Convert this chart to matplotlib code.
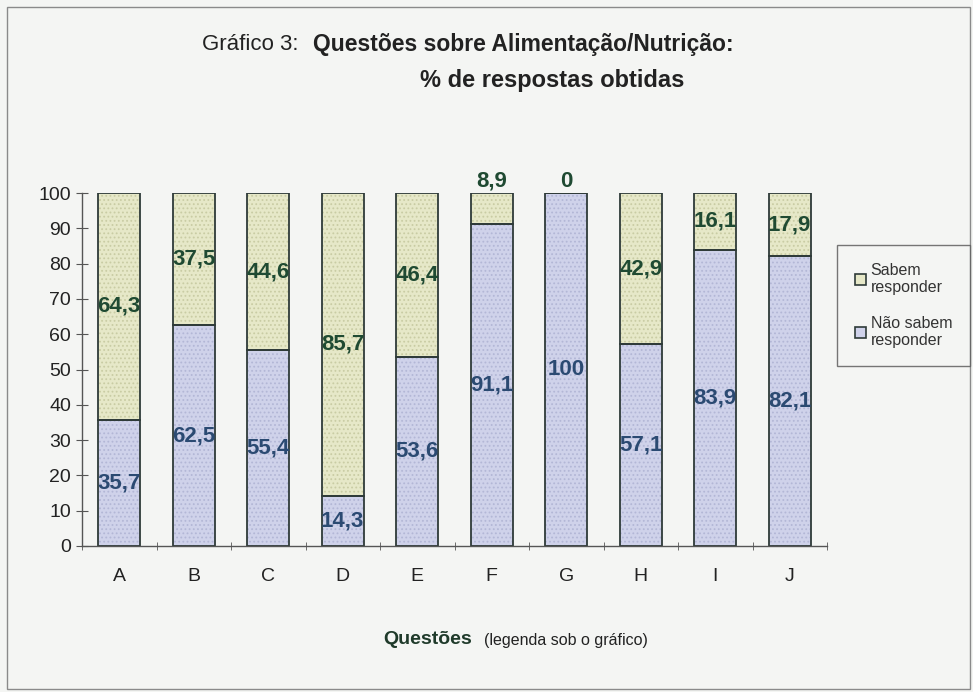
import matplotlib
matplotlib.use("Agg")
import matplotlib.pyplot as plt
import numpy as np
from matplotlib.patches import Patch

plt.rcParams['font.family'] = ['Liberation Sans', 'DejaVu Sans']
plt.rcParams['hatch.linewidth'] = 0.8

categories = ["A", "B", "C", "D", "E", "F", "G", "H", "I", "J"]
nao_sabem = [35.7, 62.5, 55.4, 14.3, 53.6, 91.1, 100, 57.1, 83.9, 82.1]
sabem = [64.3, 37.5, 44.6, 85.7, 46.4, 8.9, 0, 42.9, 16.1, 17.9]
yticks = list(range(0, 101, 10))

BG = '#f4f5f3'
fig = plt.figure(figsize=(9.73, 6.92), dpi=100, facecolor=BG)
W, H = 973, 692
ax = fig.add_axes([82 / W, 1 - 546 / H, (827 - 82) / W, (546 - 193) / H])
ax.set_facecolor('none')

x = np.arange(len(categories))
bw = 0.56
col_low = '#cfd2ea'
col_top = '#e6e8c8'
hatch_low = '#b3b7d6'
hatch_top = '#c9cca4'
ax.bar(x, nao_sabem, bw, color=col_low, edgecolor=hatch_low, linewidth=0,
       hatch='....')
ax.bar(x, sabem, bw, bottom=nao_sabem, color=col_top, edgecolor=hatch_top,
       linewidth=0, hatch='....')
ax.bar(x, nao_sabem, bw, fill=False, edgecolor='#2e3a38', linewidth=1.3)
ax.bar(x, sabem, bw, bottom=nao_sabem, fill=False, edgecolor='#2e3a38', linewidth=1.3)

h_top = Patch(facecolor=col_top, edgecolor='#2e3a38', linewidth=1.2)
h_low = Patch(facecolor=col_low, edgecolor='#2e3a38', linewidth=1.2)

def fmt(v):
    return ('%g' % v).replace('.', ',')

for i in range(len(categories)):
    lo, hi = nao_sabem[i], sabem[i]
    if lo > 0:
        ax.text(x[i], lo / 2, fmt(lo), ha='center', va='center', fontsize=16,
                fontweight='bold', color='#2b4a72')
    if hi >= 15:
        ax.text(x[i], lo + hi / 2, fmt(hi), ha='center', va='center', fontsize=16,
                fontweight='bold', color='#1f4a32')
    else:
        ax.text(x[i], 100.3, fmt(hi), ha='center', va='bottom', fontsize=16,
                fontweight='bold', color='#1f4a32')

ax.set_xlim(-0.5, len(categories) - 0.5)
ax.set_ylim(0, 100)
ax.set_yticks(yticks)
ax.set_yticklabels([str(t) for t in yticks], fontsize=14, color='#222222')
ax.set_xticks(x)
ax.set_xticklabels(categories, fontsize=14, color='#222222')
ax.tick_params(axis='x', which='major', length=0, pad=16)
ax.set_xticks(np.arange(-0.5, len(categories), 1), minor=True)
ax.tick_params(axis='x', which='minor', length=6, direction='inout', color='#555555')
ax.tick_params(axis='y', length=8, direction='inout', color='#555555', pad=4)
for s in ['top', 'right']:
    ax.spines[s].set_visible(False)
for s in ['left', 'bottom']:
    ax.spines[s].set_color('#555555')
    ax.spines[s].set_linewidth(1.0)

# Title
fig.text(202 / W, 1 - 45 / H, 'Gráfico 3: ', fontsize=16, va='center', ha='left', color='#222222')
fig.text(313 / W, 1 - 45 / H, 'Questões sobre Alimentação/Nutrição:', fontsize=16.5,
         fontweight='bold', va='center', ha='left', color='#222222')
fig.text(552 / W, 1 - 80 / H, '% de respostas obtidas', fontsize=17,
         fontweight='bold', va='center', ha='center', color='#222222')

# x label
fig.text(428 / W, 1 - 640 / H, 'Questões', fontsize=14, fontweight='bold',
         va='center', ha='center', color='#1f3a2a')
fig.text(484 / W, 1 - 641 / H, '(legenda sob o gráfico)', fontsize=11.5,
         va='center', ha='left', color='#222222')

# legend
leg = fig.legend([h_top, h_low], ['Sabem\nresponder', 'Não sabem\nresponder'],
                 loc='upper left', bbox_to_anchor=(837 / W, 1 - 245 / H),
                 fontsize=11.5, frameon=True, fancybox=False, edgecolor='#555555',
                 handlelength=0.7, handleheight=0.7, handletextpad=0.3,
                 labelspacing=1.3, borderpad=1.1, borderaxespad=0, facecolor=BG)
leg.get_frame().set_linewidth(1.0)
for t in leg.get_texts():
    t.set_color('#333333')

# figure border
fig.patches.append(plt.Rectangle((7 / W, 3 / H), (970 - 7) / W, (685 - 3) / H,
                                 transform=fig.transFigure, fill=False,
                                 edgecolor='#8a8a8a', linewidth=1.0))

fig.savefig('out.png', dpi=100, facecolor=fig.get_facecolor())
